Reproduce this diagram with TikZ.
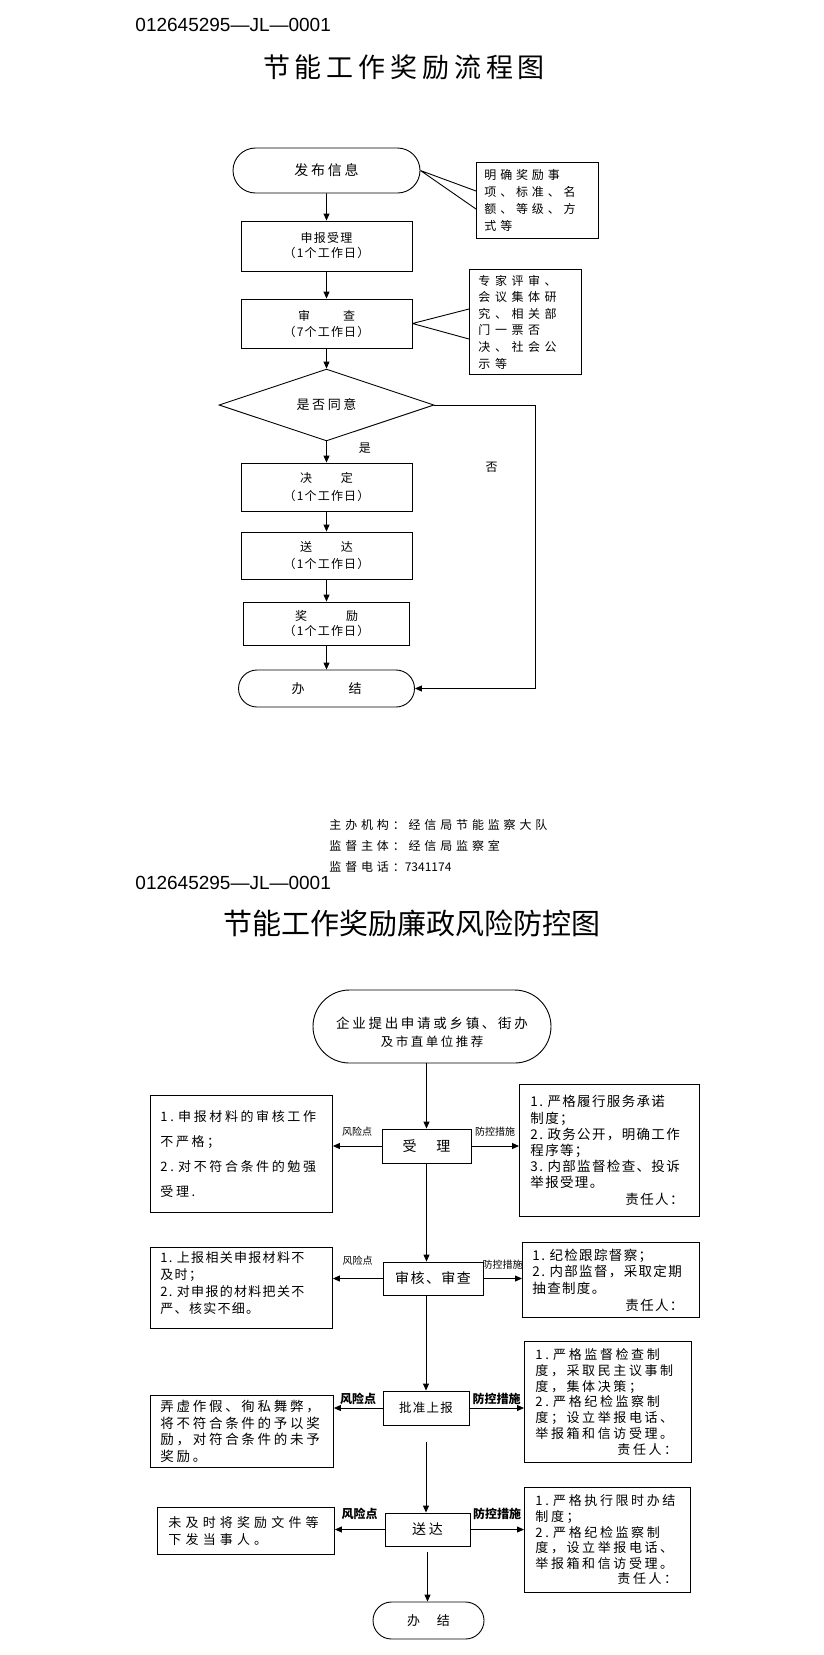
\documentclass[tikz,border=0pt]{standalone}
\usepackage{fontspec}
\setmainfont{Liberation Sans}
\newfontfamily\cjk{Noto Sans CJK SC}
\newfontfamily\cjkn[LetterSpace=10]{Noto Sans CJK SC}
\newfontfamily\cjkm[LetterSpace=20]{Noto Sans CJK SC}
\newfontfamily\cjkw[LetterSpace=32]{Noto Sans CJK SC}
\newfontfamily\cjkx[LetterSpace=38]{Noto Sans CJK SC}
\newfontfamily\cjkt[LetterSpace=18]{Noto Sans CJK SC}
\usetikzlibrary{arrows.meta,shapes.geometric,shapes.misc,positioning}
\newcommand\fsz[2]{\fontsize{#1}{#2}\selectfont}

\begin{document}
\begin{tikzpicture}[x=1pt,y=-1pt,>={Triangle[length=7pt,width=6pt]},line width=0.9pt,
 box/.style={draw,rectangle,inner sep=0pt,align=center},
 pill/.style={draw,rounded rectangle,inner sep=0pt,align=center},
 note/.style={draw,rectangle,anchor=north west,inner ysep=0pt,align=left},
 risk/.style={above=#1,inner sep=1pt,font=\cjk\fsz{10}{12}},
 riskb/.style={above=#1,inner sep=1pt,font=\cjk\bfseries\fsz{12}{14}}]
\fill[white] (0,0) rectangle (823,1655);
\useasboundingbox (0,0) rectangle (823,1655);

% first sheet
\node[anchor=west,inner sep=0pt,font=\fsz{19}{22}] (code1) at (135,25) {012645295—JL—0001};
\node[font=\cjkt\fsz{27}{30}] (title1) at (404,67) {节能工作奖励流程图};

\node[pill,minimum width=187pt,minimum height=45pt,font=\cjkm\fsz{14}{16}] (fabu) at (326.5,170.5) {发布信息};
\node[box,minimum width=171pt,minimum height=50pt,font=\cjkn\fsz{12}{15}] (shenbao) at (326.5,246) {申报受理\\（1个工作日）};
\node[box,minimum width=171pt,minimum height=49pt,font=\cjkn\fsz{12}{16}] (shencha) at (326.5,323.5) {审\hspace{33pt}查\\（7个工作日）};
\node[draw,diamond,minimum width=215pt,minimum height=64pt,inner sep=0pt,font=\cjkm\fsz{13}{15}] (yesno) at (326.5,405) {是否同意};
\node[box,minimum width=171pt,minimum height=48pt,font=\cjkn\fsz{12}{18}] (jueding) at (326.5,487) {决\hspace{29pt}定\\（1个工作日）};
\node[box,minimum width=171pt,minimum height=47pt,font=\cjkn\fsz{12}{17}] (songda) at (326.5,555.5) {送\hspace{29pt}达\\（1个工作日）};
\node[box,minimum width=166pt,minimum height=43pt,font=\cjkn\fsz{12}{15}] (jiangli) at (326.5,623.5) {奖\hspace{39pt}励\\（1个工作日）};
\node[pill,minimum width=176pt,minimum height=37pt,font=\cjkn\fsz{13}{15}] (banjie) at (326.5,688.5) {办\hspace{44pt}结};

\node[note,minimum width=122pt,minimum height=76pt,text width=106pt,inner xsep=8pt,font=\cjkw\fsz{12}{16.7}] (note1) at (476,162) {明确奖励事\\项、标准、名\\额、等级、方\\式等};
\node[note,minimum width=112pt,minimum height=105pt,text width=94pt,inner xsep=9pt,font=\cjkx\fsz{12}{16.6}] (note2) at (469,269) {专家评审、\\会议集体研\\究、相关部\\门一票否\\决、社会公\\示等};
\coordinate (c1a) at (476,191);
\coordinate (c1b) at (476,209);
\coordinate (c2a) at (469,309);
\coordinate (c2b) at (469,339);
\coordinate (turn) at (535,405);

\draw (fabu.east) -- (c1a) (fabu.east) -- (c1b);
\draw (shencha.east) -- (c2a) (shencha.east) -- (c2b);
\path[->]
 (fabu) edge (shenbao)
 (shenbao) edge (shencha)
 (shencha) edge (yesno)
 (yesno) edge node[pos=0.3,right=31pt,inner sep=1pt,font=\cjk\fsz{12}{14}] {是} (jueding)
 (jueding) edge (songda)
 (songda) edge (jiangli)
 (jiangli) edge (banjie);
\draw[->] (yesno.east) -- (turn) |- node[pos=0.11,left=36pt,inner sep=1pt,font=\cjk\fsz{12}{14}] {否} (banjie.east);

\node[anchor=west,inner sep=0pt,align=left,font=\cjkw\fsz{12}{21}] (info) at (329,846) {主办机构：经信局节能监察大队\\监督主体：经信局监察室\\监督电话：{\cjk 7341174}};

% second sheet
\node[anchor=west,inner sep=0pt,font=\fsz{19}{22}] (code2) at (135,883) {012645295—JL—0001};
\node[font=\cjk\fsz{29}{32}] (title2) at (412,923) {节能工作奖励廉政风险防控图};

\node[pill,minimum width=238pt,minimum height=73pt,font=\fsz{13}{18}] (qiye) at (432,1026.5) {\rule{0pt}{22pt}{\cjkm\fsz{13.5}{18}企业提出申请或乡镇、街办}\\{\cjkm\fsz{12.5}{18}及市直单位推荐}};
\node[box,minimum width=89pt,minimum height=34pt,font=\cjk\fsz{14}{16}] (shouli) at (426.5,1146) {受\hspace{20pt}理};
\node[box,minimum width=100pt,minimum height=33pt,font=\cjkn\fsz{14}{16}] (shenhe) at (433,1278.5) {审核、审查};
\node[box,minimum width=86pt,minimum height=34pt,font=\cjkn\fsz{12.5}{15}] (pizhun) at (426,1408) {批准上报};
\node[box,minimum width=85pt,minimum height=33pt,font=\cjkm\fsz{14}{16}] (songda2) at (427.5,1529.5) {送达};
\node[pill,minimum width=111pt,minimum height=37pt,font=\cjk\fsz{13}{15}] (banjie2) at (428.5,1620.5) {办\hspace{17pt}结};

\node[note,minimum width=182pt,minimum height=117pt,text width=162pt,inner xsep=10pt,font=\cjkm\fsz{13}{24.7}] (left1) at (150,1095) {1.~申报材料的审核工作\\不严格；\\2.~对不符合条件的勉强\\受理.};
\node[note,minimum width=182pt,minimum height=81pt,text width=162pt,inner xsep=10pt,font=\cjkn\fsz{13}{17}] (left2) at (150,1247) {1.~上报相关申报材料不\\及时；\\2.~对申报的材料把关不\\严、核实不细。\rule[-10pt]{0pt}{1pt}};
\node[note,minimum width=183pt,minimum height=72pt,text width=163pt,inner xsep=10pt,font=\cjkm\fsz{13.5}{16.7}] (left3) at (150,1395) {弄虚作假、徇私舞弊，\\将不符合条件的予以奖\\励，对符合条件的未予\\奖励。};
\node[note,minimum width=177pt,minimum height=47pt,text width=155pt,inner xsep=11pt,font=\cjkw\fsz{13}{17}] (left4) at (157,1507) {未及时将奖励文件等\\下发当事人。};

\node[note,minimum width=180pt,minimum height=132pt,text width=158pt,inner xsep=11pt,font=\cjkn\fsz{13.5}{16.2}] (right1) at (519,1084) {1.~严格履行服务承诺\\制度；\\2.~政务公开，明确工作\\程序等；\\3.~内部监督检查、投诉\\举报受理。\\\hspace*{95pt}责任人：};
\node[note,minimum width=177pt,minimum height=75pt,text width=157pt,inner xsep=10pt,font=\cjkn\fsz{13.5}{16.7}] (right2) at (522,1242) {1.~纪检跟踪督察；\\2.~内部监督，采取定期\\抽查制度。\\\hspace*{93pt}责任人：};
\node[note,minimum width=167pt,minimum height=121pt,text width=145pt,inner xsep=11pt,font=\cjkm\fsz{13}{15.8}] (right3) at (524,1341) {1.~严格监督检查制\\度，采取民主议事制\\度，集体决策；\\2.~严格纪检监察制\\度；设立举报电话、\\举报箱和信访受理。\\\hspace*{82pt}责任人：};
\node[note,minimum width=166pt,minimum height=105pt,text width=144pt,inner xsep=11pt,font=\cjkm\fsz{13}{15.6}] (right4) at (524,1487) {1.~严格执行限时办结\\制度；\\2.~严格纪检监察制\\度，设立举报电话、\\举报箱和信访受理。\\\hspace*{82pt}责任人：};

\path[->]
 (shouli.north |- qiye.south) edge (shouli.north)
 (shouli.west) edge node[risk=8pt] {风险点} (shouli.west -| left1.east)
 (shouli.east) edge node[risk=8pt] {防控措施} (shouli.east -| right1.west)
 (shouli.south) edge (shouli.south |- shenhe.north)
 (shenhe.west) edge node[risk=12pt] {风险点} (shenhe.west -| left2.east)
 (shenhe.east) edge node[risk=8pt] {防控措施} (shenhe.east -| right2.west)
 (pizhun.north |- shenhe.south) edge (pizhun.north)
 (pizhun.west) edge node[riskb=2pt] {风险点} (pizhun.west -| left3.east)
 (pizhun.east) edge node[riskb=2pt] {防控措施} (pizhun.east -| right3.west)
 (pizhun.south) edge[shorten <=17pt] (pizhun.south |- songda2.north)
 (songda2.west) edge node[riskb=8pt] {风险点} (songda2.west -| left4.east)
 (songda2.east) edge node[riskb=8pt] {防控措施} (songda2.east -| right4.west)
 (songda2.south) edge[shorten <=6pt] (songda2.south |- banjie2.north);
\end{tikzpicture}
\end{document}
